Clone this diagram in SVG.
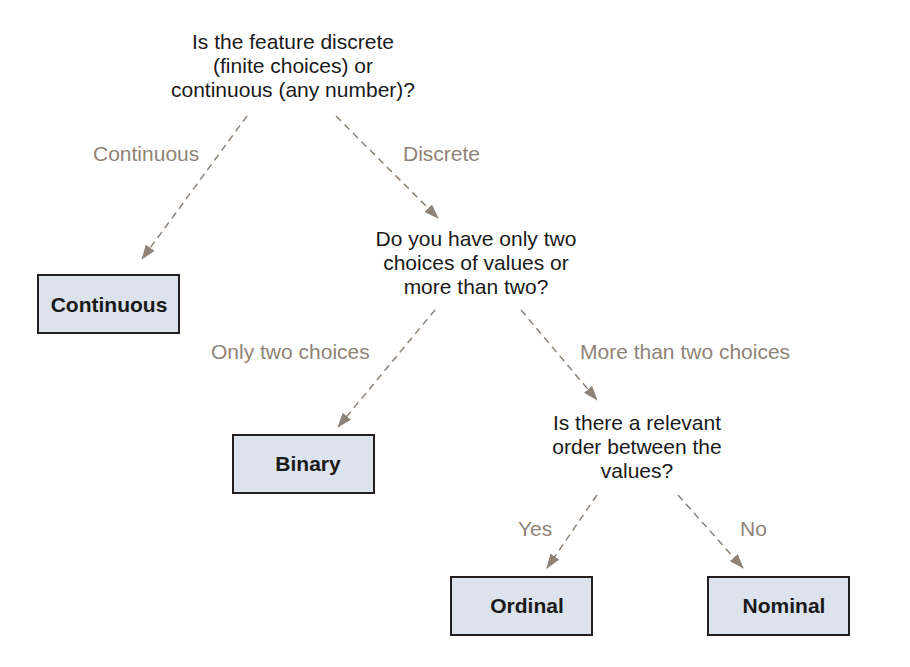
<svg xmlns="http://www.w3.org/2000/svg" width="910" height="667" viewBox="0 0 910 667">
<defs>
<style>
.q{font-family:"Liberation Sans",Arial,sans-serif;font-size:21px;fill:#1a1a1a;text-anchor:middle}
.l{font-family:"Liberation Sans",Arial,sans-serif;font-size:21px;fill:#8f8378}
.b{font-family:"Liberation Sans",Arial,sans-serif;font-size:21px;font-weight:bold;fill:#1a1a1a;text-anchor:middle}
.box{fill:#dce3ec;stroke:#231f20;stroke-width:2}
.c{stroke:#8f8378;stroke-width:1.5;stroke-dasharray:7,5;fill:none;marker-end:url(#ah)}
</style>
<marker id="ah" viewBox="0 0 14 10" refX="13" refY="5" markerWidth="15" markerHeight="11" markerUnits="userSpaceOnUse" orient="auto">
<path d="M0,0 L14,5 L0,10 Z" fill="#8f8378"/>
</marker>
</defs>
<rect width="910" height="667" fill="#ffffff"/>
<g id="connectors">
<line class="c" x1="247" y1="116" x2="142" y2="259"/>
<line class="c" x1="336" y1="116" x2="438" y2="218"/>
<line class="c" x1="435" y1="310" x2="338" y2="427"/>
<line class="c" x1="521" y1="310" x2="597" y2="400"/>
<line class="c" x1="597" y1="495" x2="547" y2="568"/>
<line class="c" x1="678" y1="495" x2="743" y2="568"/>
<text class="l" x="93" y="161">Continuous</text>
<text class="l" x="403" y="161">Discrete</text>
<text class="l" x="211" y="359">Only two choices</text>
<text class="l" x="580" y="359">More than two choices</text>
<text class="l" x="518" y="536">Yes</text>
<text class="l" x="740" y="536">No</text>
</g>
<g id="q1">
<text class="q" x="293" y="49">Is the feature discrete</text>
<text class="q" x="293" y="73">(finite choices) or</text>
<text class="q" x="293" y="97">continuous (any number)?</text>
</g>
<g id="q2">
<text class="q" x="476" y="246">Do you have only two</text>
<text class="q" x="476" y="270">choices of values or</text>
<text class="q" x="476" y="294">more than two?</text>
</g>
<g id="q3">
<text class="q" x="637" y="430">Is there a relevant</text>
<text class="q" x="637" y="454">order between the</text>
<text class="q" x="637" y="478">values?</text>
</g>
<g id="continuous">
<rect class="box" x="38" y="275" width="141" height="58"/>
<text class="b" x="109" y="312">Continuous</text>
</g>
<g id="binary">
<rect class="box" x="233" y="435" width="141" height="58"/>
<text class="b" x="308" y="471">Binary</text>
</g>
<g id="ordinal">
<rect class="box" x="451" y="577" width="141" height="58"/>
<text class="b" x="527" y="613">Ordinal</text>
</g>
<g id="nominal">
<rect class="box" x="708" y="577" width="141" height="58"/>
<text class="b" x="784" y="613">Nominal</text>
</g>
</svg>
